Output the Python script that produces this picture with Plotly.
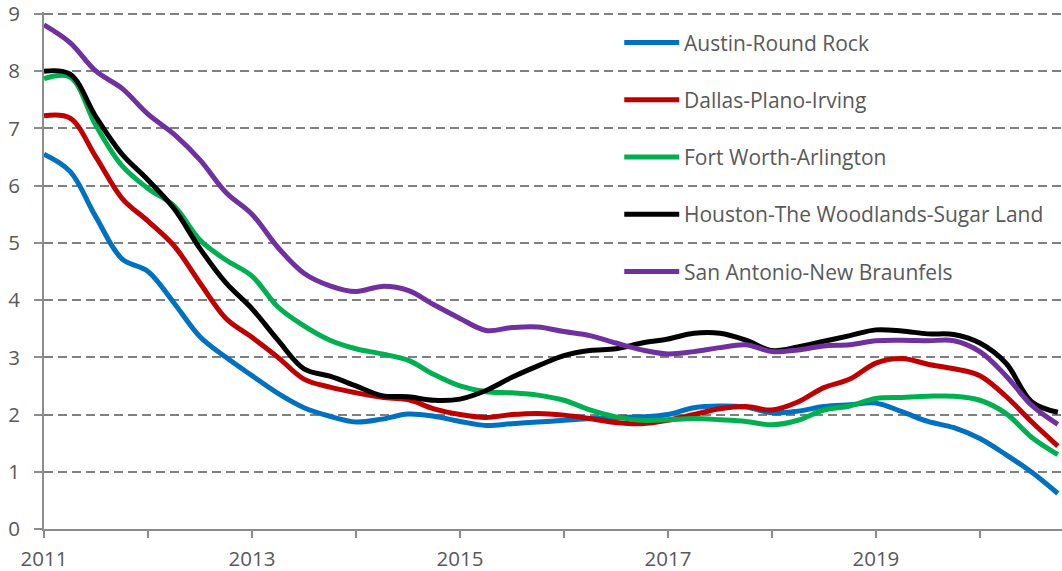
import plotly.graph_objects as go

# Quarterly observation dates (decimal years, 2011 Q1 .. 2020 Q4)
quarters = [2011 + q * 0.25 for q in range(40)]

austin = [6.55, 6.25, 5.45, 4.72, 4.50, 3.95, 3.36, 3.00, 2.68, 2.37,
          2.12, 1.97, 1.87, 1.92, 2.01, 1.97, 1.88, 1.81, 1.84, 1.87,
          1.90, 1.93, 1.95, 1.96, 2.00, 2.12, 2.15, 2.13, 2.03, 2.06,
          2.14, 2.17, 2.20, 2.05, 1.88, 1.77, 1.58, 1.30, 0.99, 0.62]
dallas = [7.22, 7.18, 6.50, 5.78, 5.38, 4.95, 4.30, 3.68, 3.35, 3.00,
          2.62, 2.48, 2.38, 2.30, 2.26, 2.10, 2.00, 1.95, 2.00, 2.02,
          1.99, 1.93, 1.86, 1.84, 1.90, 2.00, 2.10, 2.14, 2.08, 2.22,
          2.47, 2.62, 2.90, 2.98, 2.88, 2.80, 2.68, 2.32, 1.87, 1.45]
fortworth = [7.87, 7.90, 7.05, 6.35, 5.95, 5.65, 5.05, 4.70, 4.42, 3.88,
             3.55, 3.30, 3.15, 3.06, 2.95, 2.70, 2.50, 2.40, 2.38, 2.34,
             2.25, 2.08, 1.96, 1.90, 1.91, 1.93, 1.91, 1.88, 1.82, 1.90,
             2.08, 2.15, 2.28, 2.30, 2.32, 2.32, 2.25, 2.02, 1.60, 1.30]
houston = [8.00, 7.95, 7.20, 6.55, 6.10, 5.60, 4.90, 4.30, 3.85, 3.30,
           2.80, 2.67, 2.50, 2.33, 2.31, 2.25, 2.27, 2.42, 2.65, 2.85,
           3.03, 3.12, 3.15, 3.25, 3.32, 3.42, 3.42, 3.30, 3.12, 3.18,
           3.28, 3.38, 3.48, 3.46, 3.41, 3.40, 3.25, 2.90, 2.22, 2.04]
sanantonio = [8.81, 8.50, 8.00, 7.70, 7.25, 6.90, 6.45, 5.88, 5.50, 4.92,
              4.47, 4.25, 4.15, 4.24, 4.17, 3.92, 3.68, 3.47, 3.52, 3.53,
              3.45, 3.38, 3.25, 3.13, 3.06, 3.10, 3.17, 3.22, 3.10, 3.13,
              3.20, 3.22, 3.29, 3.30, 3.29, 3.29, 3.10, 2.68, 2.16, 1.83]

series_names = ["Austin-Round Rock", "Dallas-Plano-Irving", "Fort Worth-Arlington",
                "Houston-The Woodlands-Sugar Land", "San Antonio-New Braunfels"]
series_values = [austin, dallas, fortworth, houston, sanantonio]
series_colors = ["#0070C0", "#C00000", "#00B050", "#000000", "#7030A0"]
legend_levels = [8.5, 7.5, 6.5, 5.5, 4.5]

year_ticks = list(range(2011, 2021))
year_labels = [str(y) if (y - 2011) % 2 == 0 else "" for y in year_ticks]
y_ticks = list(range(0, 10))

FONT = "Open Sans, Liberation Sans, sans-serif"
TEXT = "#595959"
GRID = "#808080"
AXIS = "#8c8c8c"

fig = go.Figure()
for name, vals, col in zip(series_names, series_values, series_colors):
    fig.add_trace(go.Scatter(x=quarters, y=vals, name=name, mode="lines",
                             line=dict(color=col, width=5, shape="spline", smoothing=1.0),
                             showlegend=False, hoverinfo="x+y+name"))

# manual legend (sample line + label), one per gridline band
for name, col, lvl in zip(series_names, series_colors, legend_levels):
    fig.add_shape(type="line", xref="paper", yref="y", x0=0.570, x1=0.624, y0=lvl, y1=lvl,
                  line=dict(color=col, width=5), layer="above")
    fig.add_annotation(xref="paper", yref="y", x=0.627, y=lvl, text=name, showarrow=False,
                       xanchor="left", yanchor="middle",
                       font=dict(family=FONT, size=21, color=TEXT))

fig.update_layout(
    width=1062, height=571,
    margin=dict(l=44, r=0, t=12, b=42),
    paper_bgcolor="white", plot_bgcolor="white",
    font=dict(family=FONT, size=20, color=TEXT),
    showlegend=False,
)
fig.update_xaxes(range=[2011, 2020.79], tickmode="array", tickvals=year_ticks, ticktext=year_labels,
                 automargin=False, showgrid=False, zeroline=False,
                 showline=True, linecolor=AXIS, linewidth=2,
                 ticks="outside", ticklen=7, tickwidth=2, tickcolor=AXIS,
                 ticklabelstandoff=3, ticklabeloverflow="allow",
                 tickfont=dict(family=FONT, size=20.5, color=TEXT))
fig.update_yaxes(range=[0, 9.035], tickmode="array", tickvals=y_ticks,
                 automargin=False, showgrid=True, gridcolor=GRID, gridwidth=2, griddash="9px,5px",
                 zeroline=False, showline=True, linecolor=AXIS, linewidth=2,
                 ticks="outside", ticklen=8, tickwidth=2, tickcolor=AXIS,
                 ticklabelstandoff=10, ticklabeloverflow="allow",
                 tickfont=dict(family=FONT, size=20.5, color=TEXT))

# remove the page's default 8px body margin so the figure sits at the window's corner
fig.write_html("out.html", config={"displayModeBar": False},
               post_script="document.body.style.margin='0';")
